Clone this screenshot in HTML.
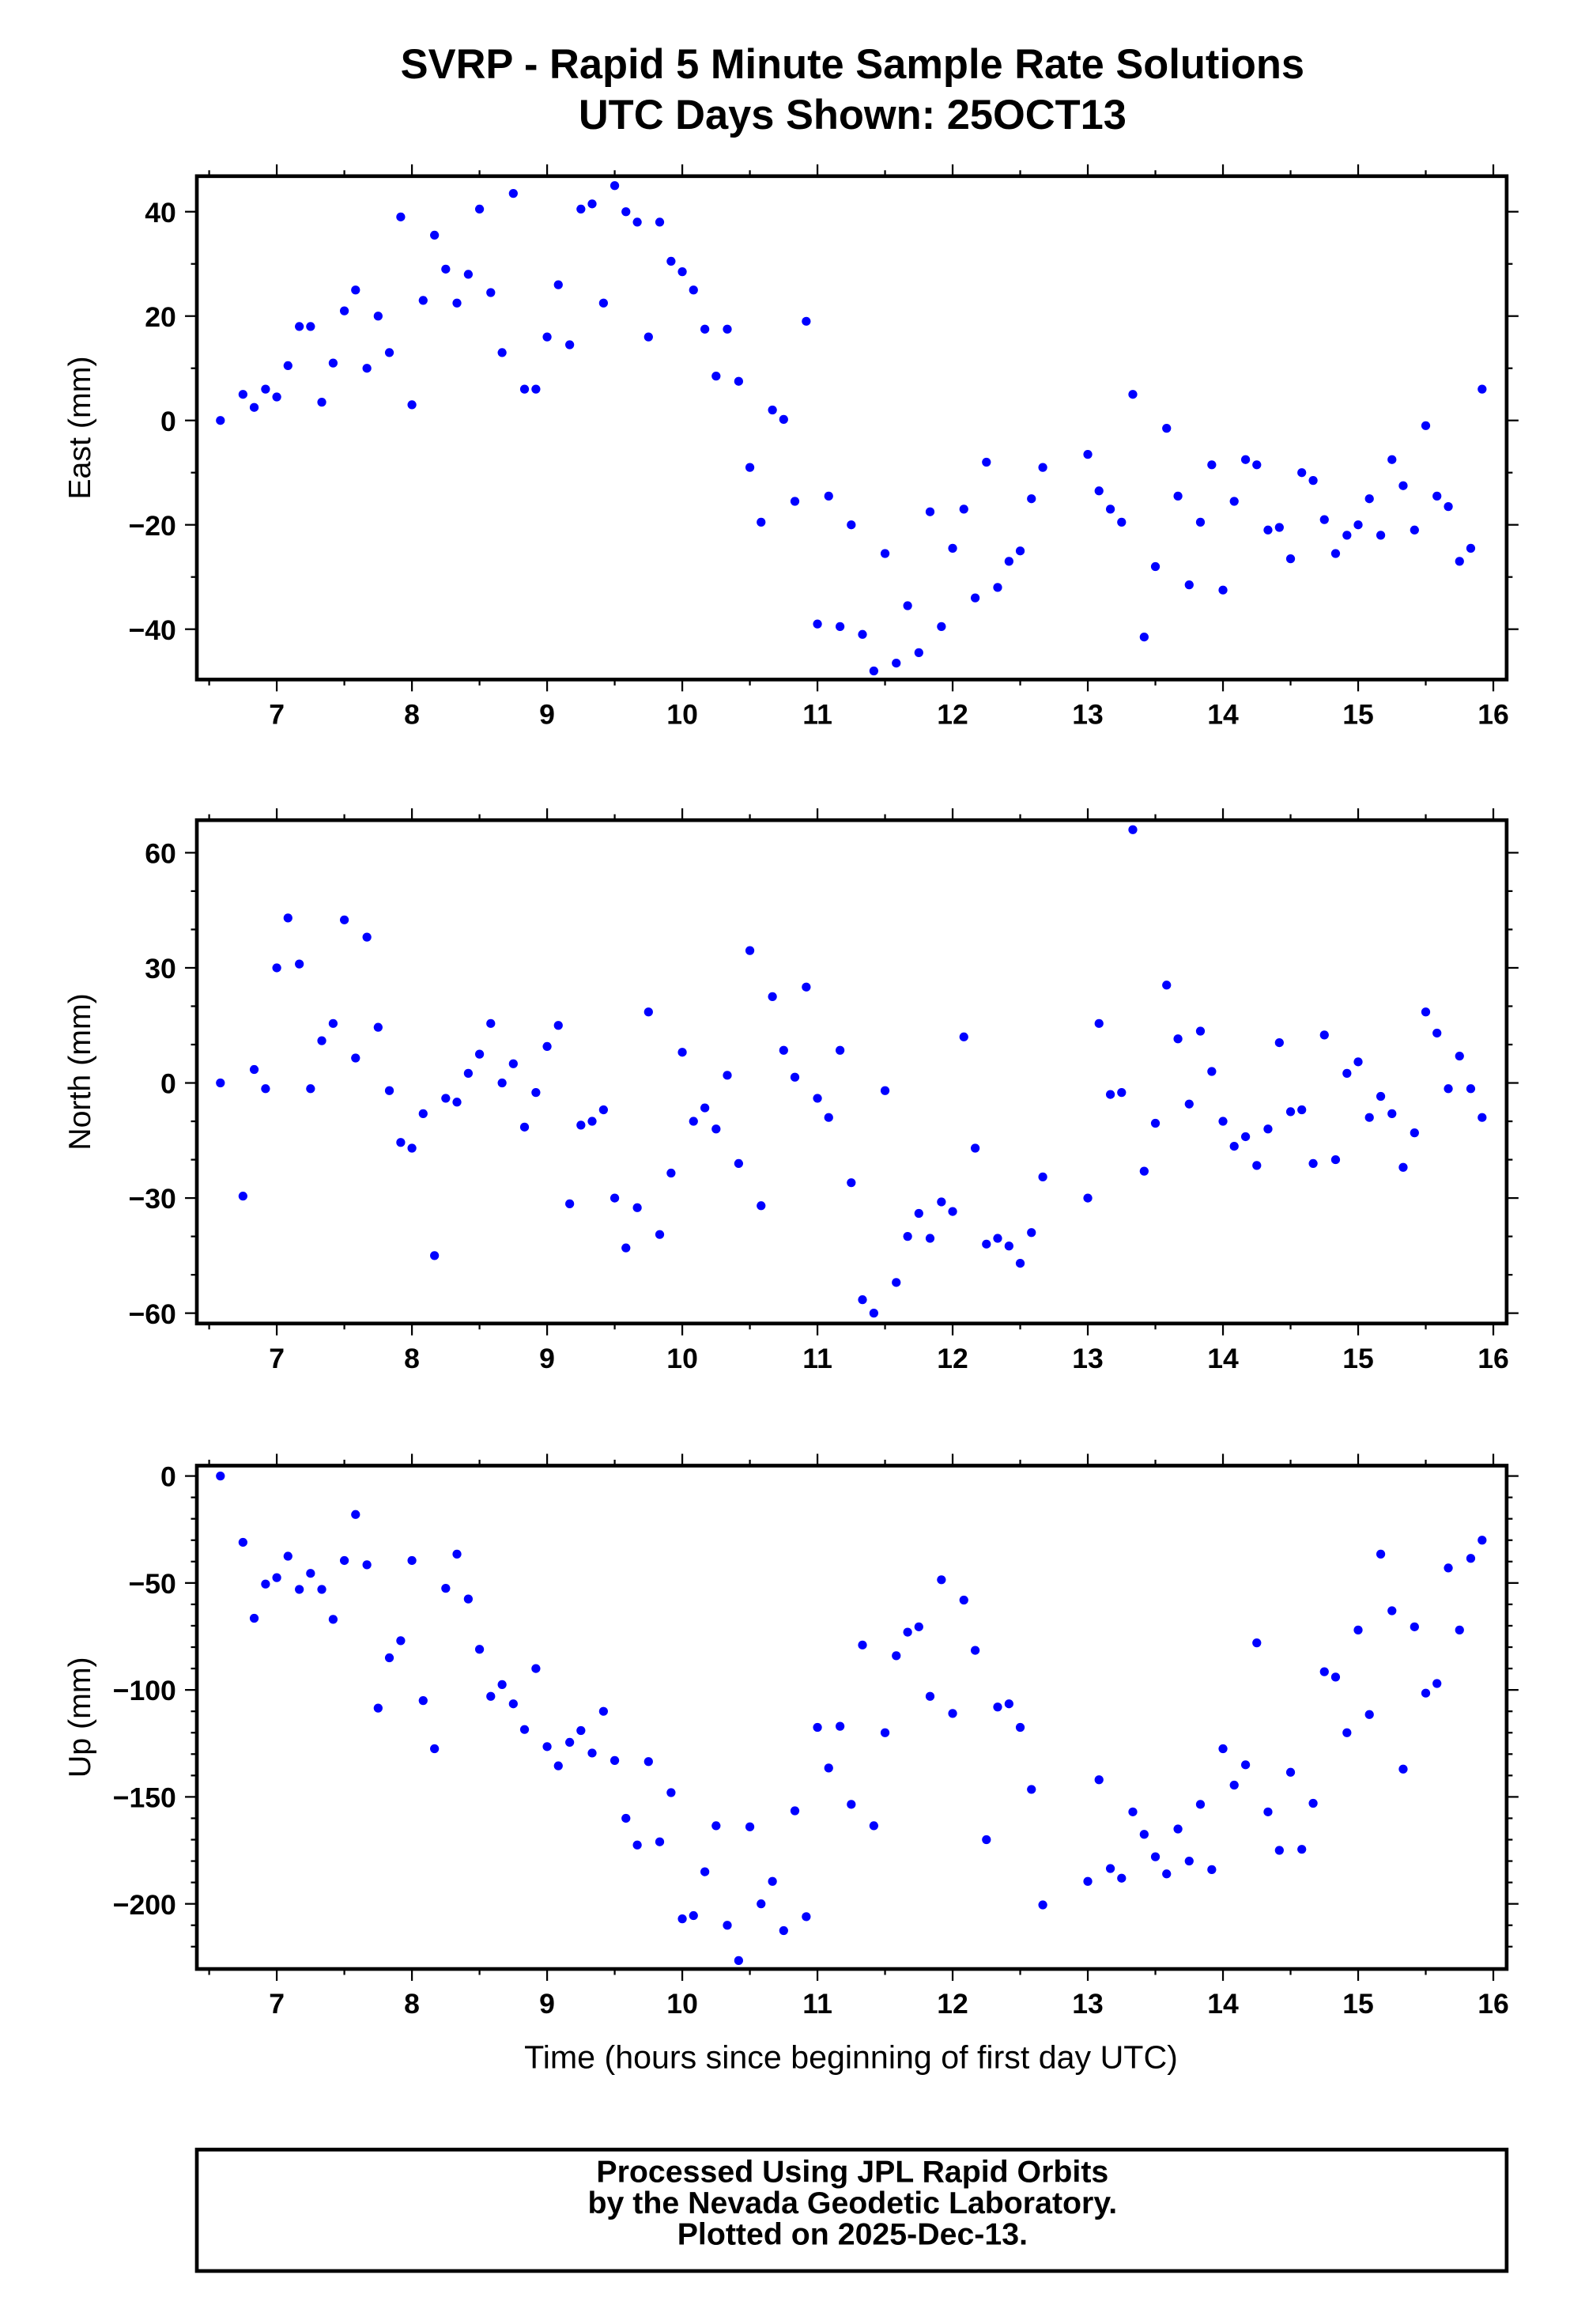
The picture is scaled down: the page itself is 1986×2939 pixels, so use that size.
<!DOCTYPE html>
<html><head><meta charset="utf-8"><style>
html,body{margin:0;padding:0;background:#fff}
svg{display:block}
text{font-family:"Liberation Sans",Arial,sans-serif}
</style></head><body>
<svg id="chart" xmlns="http://www.w3.org/2000/svg" width="1986" height="2939" viewBox="0 0 1060.8 1569.8" preserveAspectRatio="none">
<rect width="1060.8" height="1569.8" fill="#fff"/>
<text x="576" y="53" text-anchor="middle" font-size="28" font-weight="bold">SVRP - Rapid 5 Minute Sample Rate Solutions</text>
<text x="576" y="87" text-anchor="middle" font-size="28" font-weight="bold">UTC Days Shown:  25OCT13</text>
<g id="plots"></g>
<text x="575" y="1397" text-anchor="middle" font-size="22">Time (hours since beginning of first day UTC)</text>
<rect x="133" y="1452" width="885" height="82" fill="none" stroke="#000" stroke-width="2.5"/>
<text x="576" y="1474" text-anchor="middle" font-size="21" font-weight="bold">Processed Using JPL Rapid Orbits</text>
<text x="576" y="1495" text-anchor="middle" font-size="21" font-weight="bold">by the Nevada Geodetic Laboratory.</text>
<text x="576" y="1516" text-anchor="middle" font-size="21" font-weight="bold">Plotted on 2025-Dec-13.</text>
</svg>
<script>
const times = [6.583,6.75,6.833,6.917,7.0,7.083,7.167,7.25,7.333,7.417,7.5,7.583,7.667,7.75,7.833,7.917,8.0,8.083,8.167,8.25,8.333,8.417,8.5,8.583,8.667,8.75,8.833,8.917,9.0,9.083,9.167,9.25,9.333,9.417,9.5,9.583,9.667,9.75,9.833,9.917,10.0,10.083,10.167,10.25,10.333,10.417,10.5,10.583,10.667,10.75,10.833,10.917,11.0,11.083,11.167,11.25,11.333,11.417,11.5,11.583,11.667,11.75,11.833,11.917,12.0,12.083,12.167,12.25,12.333,12.417,12.5,12.583,12.667,13.0,13.083,13.167,13.25,13.333,13.417,13.5,13.583,13.667,13.75,13.833,13.917,14.0,14.083,14.167,14.25,14.333,14.417,14.5,14.583,14.667,14.75,14.833,14.917,15.0,15.083,15.167,15.25,15.333,15.417,15.5,15.583,15.667,15.75,15.833,15.917];
const eastValues = [0,5,2.5,6,4.5,10.5,18,18,3.5,11,21,25,10,20,13,39,3,23,35.5,29,22.5,28,40.5,24.5,13,43.5,6,6,16,26,14.5,40.5,41.5,22.5,45,40,38,16,38,30.5,28.5,25,17.5,8.5,17.5,7.5,-9,-19.5,2,0.2,-15.5,19,-39,-14.5,-39.5,-20,-41,-48,-25.5,-46.5,-35.5,-44.5,-17.5,-39.5,-24.5,-17,-34,-8,-32,-27,-25,-15,-9,-6.5,-13.5,-17,-19.5,5,-41.5,-28,-1.5,-14.5,-31.5,-19.5,-8.5,-32.5,-15.5,-7.5,-8.5,-21,-20.5,-26.5,-10,-11.5,-19,-25.5,-22,-20,-15,-22,-7.5,-12.5,-21,-1,-14.5,-16.5,-27,-24.5,6];
const northValues = [0,-29.5,3.5,-1.5,30,43,31,-1.5,11,15.5,42.5,6.5,38,14.5,-2,-15.5,-17,-8,-45,-4,-5,2.5,7.5,15.5,0,5,-11.5,-2.5,9.5,15,-31.5,-11,-10,-7,-30,-43,-32.5,18.5,-39.5,-23.5,8,-10,-6.5,-12,2,-21,34.5,-32,22.5,8.5,1.5,25,-4,-9,8.5,-26,-56.5,-60,-2,-52,-40,-34,-40.5,-31,-33.5,12,-17,-42,-40.5,-42.5,-47,-39,-24.5,-30,15.5,-3,-2.5,66,-23,-10.5,25.5,11.5,-5.5,13.5,3,-10,-16.5,-14,-21.5,-12,10.5,-7.5,-7,-21,12.5,-20,2.5,5.5,-9,-3.5,-8,-22,-13,18.5,13,-1.5,7,-1.5,-9];
const upValues = [0,-31,-66.5,-50.5,-47.5,-37.5,-53,-45.5,-53,-67,-39.5,-18,-41.5,-108.5,-85,-77,-39.5,-105,-127.5,-52.5,-36.5,-57.5,-81,-103,-97.5,-106.5,-118.5,-90,-126.5,-135.5,-124.5,-119,-129.5,-110,-133,-160,-172.5,-133.5,-171,-148,-207,-205.5,-185,-163.5,-210,-226.5,-164,-200,-189.5,-212.5,-156.5,-206,-117.5,-136.5,-117,-153.5,-79,-163.5,-120,-84,-73,-70.5,-103,-48.5,-111,-58,-81.5,-170,-108,-106.5,-117.5,-146.5,-200.5,-189.5,-142,-183.5,-188,-157,-167.5,-178,-186,-165,-180,-153.5,-184,-127.5,-144.5,-135,-78,-157,-175,-138.5,-174.5,-153,-91.5,-94,-120,-72,-111.5,-36.5,-63,-137,-70.5,-101.5,-97,-43,-72,-38.5,-30];
const xTickLabels = [7,8,9,10,11,12,13,14,15,16];
const eastTicks = [40,20,0,-20,-40];
const northTicks = [60,30,0,-30,-60];
const upTicks = [0,-50,-100,-150,-200];

const NS = "http://www.w3.org/2000/svg";
const plots = document.getElementById('plots');
const X0 = 133, X1 = 1018;
function xScale(t){ return 187 + (t - 7) * 91.333; }
function mk(tag, attrs, parent){ const e = document.createElementNS(NS, tag); for (const k in attrs) e.setAttribute(k, attrs[k]); parent.appendChild(e); return e; }

function drawPanel(name, title, top, bottom, vRef1, y1, vRef2, y2, ticks, minorStep, vals){
  const yScale = v => y1 + (v - vRef1) * (y2 - y1) / (vRef2 - vRef1);
  const g = mk('g', {}, plots);
  
  
  for (let h = 6.5; h <= 16.01; h += 0.5) {
    const x = xScale(h); const major = Math.abs(h - Math.round(h)) < 1e-6;
    const L = major ? 8 : 4;
    mk('line', {x1:x, x2:x, y1:top, y2:top - L, stroke:'#000', 'stroke-width':1.2}, g);
    mk('line', {x1:x, x2:x, y1:bottom, y2:bottom + L, stroke:'#000', 'stroke-width':1.2}, g);
  }
  xTickLabels.forEach(h => {
    const t = mk('text', {x:xScale(h), y:bottom + 30, 'text-anchor':'middle', 'font-size':19, 'font-weight':'bold'}, g);
    
    
    t.textContent = h;
  });
  const lo = Math.min(...ticks) - 2*minorStep, hi = Math.max(...ticks) + 2*minorStep;
  for (let v = lo; v <= hi; v += minorStep) {
    const y = yScale(v); if (y < top || y > bottom) continue;
    const major = ticks.includes(v); const L = major ? 8 : 4;
    mk('line', {x1:X0, x2:X0 - L, y1:y, y2:y, stroke:'#000', 'stroke-width':1.2}, g);
    mk('line', {x1:X1, x2:X1 + L, y1:y, y2:y, stroke:'#000', 'stroke-width':1.2}, g);
  }
  ticks.forEach(v => {
    const t = mk('text', {x:X0 - 14, y:yScale(v) + 7, 'text-anchor':'end', 'font-size':19, 'font-weight':'bold'}, g);
    
    
    t.textContent = v < 0 ? '\u2212' + (-v) : v;
  });
  const yt = mk('text', {x:0, y:0, 'text-anchor':'middle', 'font-size':21, transform:'translate(61,' + ((top+bottom)/2) + ') rotate(-90)'}, g);
  
  
  yt.textContent = title;
  const fr = mk('rect', {x:X0, y:top, width:X1 - X0, height:bottom - top, fill:'none', stroke:'#000', 'stroke-width':2.5}, g);
  
  
  vals.forEach((v, i) => {
    const c = mk('circle', {cx:xScale(times[i]), cy:yScale(v), r:3, fill:'#0000ff'}, g);
    
    
  });
}
drawPanel('east', 'East (mm)', 119, 459, 40, 143, -40, 425, eastTicks, 10, eastValues);
drawPanel('north', 'North (mm)', 554, 894, 60, 576, -60, 887, northTicks, 10, northValues);
drawPanel('up', 'Up (mm)', 990, 1330, 0, 997, -200, 1286, upTicks, 10, upValues);
</script>
</body></html>
